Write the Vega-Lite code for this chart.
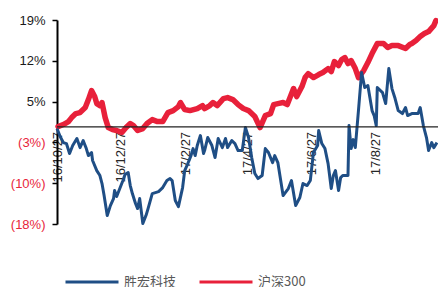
{
  "$schema": "https://vega.github.io/schema/vega-lite/v6.json",
  "width": 381,
  "height": 204,
  "autosize": {"type": "none"},
  "padding": {"left": 57, "top": 20, "right": 0, "bottom": 63},
  "background": "white",
  "config": {"view": {"stroke": null}, "font": "Liberation Sans"},
  "datasets": {
    "hs": [
      {"d":"2016-10-28","v":0.07},{"d":"2016-11-02","v":0.44},{"d":"2016-11-07","v":0.98},{"d":"2016-11-10","v":1.70},
      {"d":"2016-11-14","v":2.43},{"d":"2016-11-18","v":2.61},{"d":"2016-11-23","v":3.52},{"d":"2016-11-26","v":4.97},
      {"d":"2016-11-29","v":6.60},{"d":"2016-12-02","v":5.51},{"d":"2016-12-04","v":4.24},{"d":"2016-12-07","v":3.88},
      {"d":"2016-12-09","v":4.43},{"d":"2016-12-12","v":1.70},{"d":"2016-12-15","v":-0.11},{"d":"2016-12-19","v":-0.47},
      {"d":"2016-12-23","v":-0.65},{"d":"2016-12-28","v":-1.01},{"d":"2017-01-01","v":-0.11},{"d":"2017-01-05","v":0.62},
      {"d":"2017-01-08","v":0.25},{"d":"2017-01-12","v":-0.65},{"d":"2017-01-17","v":-0.29},{"d":"2017-01-21","v":0.62},
      {"d":"2017-01-26","v":1.34},{"d":"2017-01-31","v":0.98},{"d":"2017-02-05","v":0.98},{"d":"2017-02-10","v":2.61},
      {"d":"2017-02-15","v":2.97},{"d":"2017-02-20","v":3.70},{"d":"2017-02-22","v":4.43},{"d":"2017-02-26","v":3.16},
      {"d":"2017-03-03","v":2.97},{"d":"2017-03-10","v":3.34},{"d":"2017-03-15","v":3.88},{"d":"2017-03-17","v":3.34},
      {"d":"2017-03-22","v":3.88},{"d":"2017-03-25","v":4.43},{"d":"2017-03-29","v":3.88},{"d":"2017-04-04","v":5.15},
      {"d":"2017-04-08","v":5.33},{"d":"2017-04-13","v":4.97},{"d":"2017-04-18","v":4.06},{"d":"2017-04-23","v":3.34},
      {"d":"2017-04-28","v":2.97},{"d":"2017-05-04","v":1.89},{"d":"2017-05-09","v":-0.11},{"d":"2017-05-14","v":2.07},
      {"d":"2017-05-19","v":2.43},{"d":"2017-05-22","v":4.06},{"d":"2017-05-26","v":4.24},{"d":"2017-05-31","v":4.43},
      {"d":"2017-06-04","v":4.06},{"d":"2017-06-10","v":6.96},{"d":"2017-06-13","v":5.51},{"d":"2017-06-18","v":7.33},
      {"d":"2017-06-21","v":8.96},{"d":"2017-06-24","v":9.68},{"d":"2017-06-29","v":8.96},{"d":"2017-07-04","v":9.50},
      {"d":"2017-07-08","v":9.87},{"d":"2017-07-13","v":10.59},{"d":"2017-07-16","v":10.05},{"d":"2017-07-19","v":11.86},
      {"d":"2017-07-23","v":11.13},{"d":"2017-07-26","v":12.22},{"d":"2017-07-29","v":12.59},{"d":"2017-08-01","v":11.50},
      {"d":"2017-08-04","v":12.04},{"d":"2017-08-08","v":10.59},{"d":"2017-08-11","v":8.96},{"d":"2017-08-16","v":10.23},
      {"d":"2017-08-20","v":11.68},{"d":"2017-08-24","v":13.31},{"d":"2017-08-29","v":15.12},{"d":"2017-09-04","v":15.12},
      {"d":"2017-09-08","v":14.40},{"d":"2017-09-12","v":14.76},{"d":"2017-09-18","v":14.76},{"d":"2017-09-25","v":14.22},
      {"d":"2017-09-29","v":14.94},{"d":"2017-10-01","v":15.12},{"d":"2017-10-05","v":15.67},{"d":"2017-10-09","v":16.39},
      {"d":"2017-10-13","v":16.94},{"d":"2017-10-17","v":17.30},{"d":"2017-10-22","v":18.39},{"d":"2017-10-24","v":19.30}
    ],
    "sh": [
      {"d":"2016-10-27","v":-0.29},{"d":"2016-10-30","v":-1.74},{"d":"2016-11-02","v":-2.83},{"d":"2016-11-05","v":-3.01},
      {"d":"2016-11-08","v":-4.82},{"d":"2016-11-11","v":-3.37},{"d":"2016-11-15","v":-2.10},{"d":"2016-11-18","v":-3.74},
      {"d":"2016-11-21","v":-2.47},{"d":"2016-11-24","v":-3.92},{"d":"2016-11-26","v":-5.19},{"d":"2016-11-29","v":-4.64},
      {"d":"2016-11-30","v":-6.09},{"d":"2016-12-04","v":-7.91},{"d":"2016-12-07","v":-8.81},{"d":"2016-12-09","v":-10.26},
      {"d":"2016-12-11","v":-12.44},{"d":"2016-12-14","v":-16.07},{"d":"2016-12-17","v":-14.26},{"d":"2016-12-20","v":-12.99},
      {"d":"2016-12-21","v":-11.54},{"d":"2016-12-23","v":-12.62},{"d":"2016-12-26","v":-11.17},{"d":"2016-12-29","v":-9.72},
      {"d":"2016-12-31","v":-8.63},{"d":"2017-01-03","v":-8.27},{"d":"2017-01-05","v":-10.63},{"d":"2017-01-07","v":-12.08},
      {"d":"2017-01-10","v":-13.89},{"d":"2017-01-12","v":-14.80},{"d":"2017-01-14","v":-12.99},{"d":"2017-01-17","v":-17.52},
      {"d":"2017-01-20","v":-16.07},{"d":"2017-01-22","v":-14.80},{"d":"2017-01-26","v":-12.08},{"d":"2017-02-01","v":-11.72},
      {"d":"2017-02-05","v":-10.99},{"d":"2017-02-09","v":-9.72},{"d":"2017-02-12","v":-9.36},{"d":"2017-02-14","v":-9.72},
      {"d":"2017-02-17","v":-13.35},{"d":"2017-02-20","v":-14.44},{"d":"2017-02-24","v":-10.99},{"d":"2017-02-26","v":-7.91},
      {"d":"2017-03-01","v":-6.64},{"d":"2017-03-04","v":-5.19},{"d":"2017-03-06","v":-3.92},{"d":"2017-03-08","v":-5.19},
      {"d":"2017-03-10","v":-3.37},{"d":"2017-03-13","v":-1.56},{"d":"2017-03-16","v":-4.82},{"d":"2017-03-17","v":-4.28},
      {"d":"2017-03-20","v":-1.92},{"d":"2017-03-24","v":-3.37},{"d":"2017-03-27","v":-5.55},{"d":"2017-03-30","v":-2.10},
      {"d":"2017-04-03","v":-3.74},{"d":"2017-04-06","v":-2.10},{"d":"2017-04-08","v":-3.74},{"d":"2017-04-12","v":-2.47},
      {"d":"2017-04-15","v":-3.01},{"d":"2017-04-18","v":-4.28},{"d":"2017-04-22","v":-4.28},{"d":"2017-04-25","v":-0.11},
      {"d":"2017-04-28","v":-1.92},{"d":"2017-05-01","v":-5.55},{"d":"2017-05-04","v":-8.45},{"d":"2017-05-07","v":-9.36},
      {"d":"2017-05-11","v":-8.81},{"d":"2017-05-14","v":-3.92},{"d":"2017-05-17","v":-4.64},{"d":"2017-05-21","v":-6.46},
      {"d":"2017-05-23","v":-5.19},{"d":"2017-05-26","v":-6.46},{"d":"2017-05-31","v":-12.44},{"d":"2017-06-05","v":-11.17},
      {"d":"2017-06-08","v":-9.72},{"d":"2017-06-12","v":-14.26},{"d":"2017-06-16","v":-12.80},{"d":"2017-06-19","v":-10.26},
      {"d":"2017-06-23","v":-10.63},{"d":"2017-06-26","v":-9.72},{"d":"2017-06-29","v":-4.64},{"d":"2017-07-03","v":-3.37},
      {"d":"2017-07-04","v":-0.65},{"d":"2017-07-07","v":-3.01},{"d":"2017-07-10","v":-3.92},{"d":"2017-07-13","v":-6.64},
      {"d":"2017-07-16","v":-11.17},{"d":"2017-07-18","v":-8.81},{"d":"2017-07-20","v":-7.91},{"d":"2017-07-23","v":-11.54},
      {"d":"2017-07-25","v":-9.18},{"d":"2017-07-27","v":-8.81},{"d":"2017-08-01","v":-8.81},{"d":"2017-08-02","v":0.25},
      {"d":"2017-08-04","v":-3.92},{"d":"2017-08-06","v":-2.29},{"d":"2017-08-08","v":-3.74},{"d":"2017-08-11","v":2.97},
      {"d":"2017-08-14","v":9.87},{"d":"2017-08-17","v":7.15},{"d":"2017-08-20","v":7.51},{"d":"2017-08-24","v":2.97},
      {"d":"2017-08-26","v":2.07},{"d":"2017-08-28","v":0.25},{"d":"2017-08-29","v":7.15},{"d":"2017-09-03","v":6.24},
      {"d":"2017-09-06","v":4.24},{"d":"2017-09-09","v":10.59},{"d":"2017-09-12","v":6.96},{"d":"2017-09-15","v":5.15},
      {"d":"2017-09-18","v":2.97},{"d":"2017-09-22","v":2.43},{"d":"2017-09-25","v":3.52},{"d":"2017-09-27","v":2.07},
      {"d":"2017-10-01","v":2.43},{"d":"2017-10-07","v":2.43},{"d":"2017-10-09","v":3.52},{"d":"2017-10-12","v":0.25},
      {"d":"2017-10-15","v":-1.92},{"d":"2017-10-17","v":-4.28},{"d":"2017-10-20","v":-2.83},{"d":"2017-10-22","v":-3.74},
      {"d":"2017-10-25","v":-2.83}
    ]
  },
  "layer": [
    {
      "data": {"name": "hs"},
      "mark": {"type": "line", "strokeWidth": 5.5, "strokeJoin": "round", "strokeCap": "round", "clip": false},
      "encoding": {
        "x": {
          "field": "d", "type": "temporal",
          "scale": {"type": "utc", "domain": [{"year": 2016, "month": 10, "date": 27, "utc": true}, {"year": 2017, "month": 10, "date": 26, "utc": true}]},
          "axis": {
            "orient": "bottom", "offset": -97.6, "domain": false, "ticks": false, "grid": false, "title": null,
            "values": [
              {"year": 2016, "month": 10, "date": 27, "utc": true},
              {"year": 2016, "month": 12, "date": 27, "utc": true},
              {"year": 2017, "month": 2, "date": 27, "utc": true},
              {"year": 2017, "month": 4, "date": 27, "utc": true},
              {"year": 2017, "month": 6, "date": 27, "utc": true},
              {"year": 2017, "month": 8, "date": 27, "utc": true}
            ],
            "labelExpr": "utcFormat(datum.value, '%y/%-m/%d')",
            "labelAngle": 270, "labelAlign": "right", "labelBaseline": "middle",
            "labelFontSize": 13, "labelColor": "#262626", "labelPadding": 5, "labelOverlap": false, "labelFlush": false
          }
        },
        "y": {
          "field": "v", "type": "quantitative",
          "scale": {"domain": [-17.6, 19.4], "nice": false, "zero": false},
          "axis": {
            "title": null, "grid": false,
            "values": [-17.6, -10.2, -2.8, 4.6, 12, 19.4],
            "labelExpr": "datum.value < 0 ? '(' + format(-datum.value, '.0f') + '%)' : format(datum.value, '.0f') + '%'",
            "labelColor": {"condition": {"test": "datum.value < 0", "value": "#E8253A"}, "value": "#1a1a1a"},
            "labelFontSize": 13, "labelPadding": 7,
            "domainColor": "#000000", "domainWidth": 2,
            "tickColor": "#000000", "tickSize": 5, "tickWidth": 1.5
          }
        },
        "color": {
          "datum": "沪深300", "type": "nominal",
          "scale": {"domain": ["胜宏科技", "沪深300"], "range": ["#1F4E85", "#E8203A"]},
          "legend": {
            "orient": "none", "legendX": 7, "legendY": 234, "direction": "horizontal", "title": null,
            "symbolType": "stroke", "symbolSize": 2809, "symbolStrokeWidth": 3,
            "labelFont": "Noto Sans CJK SC", "labelFontSize": 13, "labelColor": "#595959",
            "labelOffset": 4, "columnPadding": 16
          }
        }
      }
    },
    {
      "data": {"name": "sh"},
      "mark": {"type": "line", "strokeWidth": 3, "strokeJoin": "round", "clip": false},
      "encoding": {
        "x": {"field": "d", "type": "temporal"},
        "y": {"field": "v", "type": "quantitative"},
        "color": {"datum": "胜宏科技", "type": "nominal"}
      }
    },
    {
      "data": {"values": [{}]},
      "mark": {"type": "rule", "color": "#222222", "strokeWidth": 1.2},
      "encoding": {"y": {"datum": 0, "type": "quantitative"}}
    }
  ]
}
